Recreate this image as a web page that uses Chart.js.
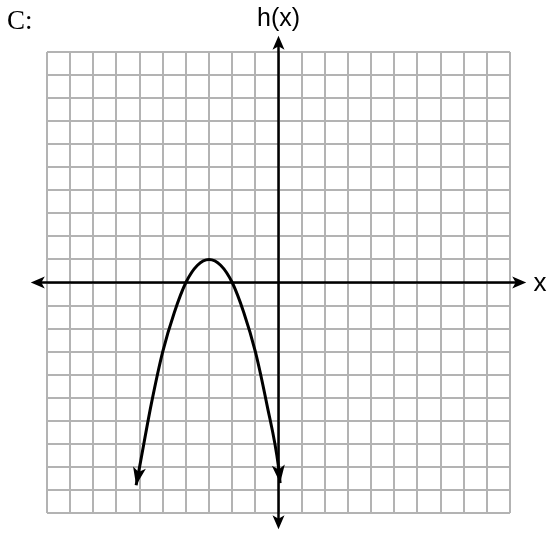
<!DOCTYPE html>
<html>
<head>
<meta charset="utf-8">
<script src="https://cdn.jsdelivr.net/npm/chart.js@4"></script>
<style>
	body { margin: 0; background: #fff; }
	#wrap { width: 548px; height: 535px; }
</style>
</head>
<body>
<div id="wrap"><canvas id="myChart" width="548" height="535"></canvas></div>
<script>
// values
const curveX = [-6.15, -6, -5.5, -5, -4.5, -4, -3.5, -3, -2.5, -2, -1.5, -1, -0.5, 0, 0.07];
const curveY = [-8.8, -8, -5.3, -3, -1.3, 0, 0.75, 1, 0.75, 0, -1.3, -3, -5.3, -8, -8.7];
const axisMin = -10;
const axisMax = 10;
const axisReach = 10.7; // axis arrows go a bit past the grid
const panelLabel = "C:";
const yLabel = "h(x)";
const xLabel = "x";

const points = curveX.map((x, i) => ({ x: x, y: curveY[i] }));

const serifFont = "27px 'Liberation Serif'";
const sansFont = "25px 'Liberation Sans'";
const sansFontX = "26px 'Liberation Sans'";

// arrowhead with a small notch at the back
function arrowHead(c, tipX, tipY, angle, len, half) {
	c.save();
	c.translate(tipX, tipY);
	c.rotate(angle);
	c.beginPath();
	c.moveTo(0, 0);
	c.lineTo(-len, -half);
	c.lineTo(-len * 0.75, 0);
	c.lineTo(-len, half);
	c.closePath();
	c.fillStyle = "#000";
	c.fill();
	c.restore();
}

const axesPlugin = {
	id: "axesPlugin",
	beforeDatasetsDraw(chart) {
		const c = chart.ctx;
		const xs = chart.scales.x;
		const ys = chart.scales.y;
		const x0 = xs.getPixelForValue(0);
		const y0 = ys.getPixelForValue(0);
		const l = xs.getPixelForValue(-axisReach);
		const r = xs.getPixelForValue(axisReach);
		const t = ys.getPixelForValue(axisReach);
		const b = ys.getPixelForValue(-axisReach);
		c.save();
		c.strokeStyle = "#000";
		c.lineWidth = 2.5;
		c.beginPath();
		c.moveTo(l + 6, y0);
		c.lineTo(r - 6, y0);
		c.moveTo(x0, t + 6);
		c.lineTo(x0, b - 6);
		c.stroke();
		c.restore();
		arrowHead(c, r, y0, 0, 14, 6);
		arrowHead(c, l, y0, Math.PI, 14, 6);
		arrowHead(c, x0, t, -Math.PI / 2, 14, 6);
		arrowHead(c, x0, b, Math.PI / 2, 14, 6);
	},
	afterDraw(chart) {
		const c = chart.ctx;
		const xs = chart.scales.x;
		const ys = chart.scales.y;
		// arrowheads on both ends of the curve
		const meta = chart.getDatasetMeta(0).data;
		const n = meta.length;
		const a1 = Math.atan2(meta[0].y - meta[1].y, meta[0].x - meta[1].x);
		const a2 = Math.atan2(meta[n - 1].y - meta[n - 2].y, meta[n - 1].x - meta[n - 2].x);
		arrowHead(c, meta[0].x, meta[0].y, a1, 18, 6.5);
		arrowHead(c, meta[n - 1].x, meta[n - 1].y, a2, 18, 6.5);

		c.save();
		c.fillStyle = "#000";
		c.font = serifFont;
		c.textAlign = "left";
		c.textBaseline = "alphabetic";
		c.fillText(panelLabel, 7, 29);
		c.font = sansFont;
		c.textAlign = "center";
		c.fillText(yLabel, xs.getPixelForValue(0), 26);
		c.font = sansFontX;
		c.textBaseline = "middle";
		c.fillText(xLabel, 540, ys.getPixelForValue(0) + 1);
		c.restore();
	},
};

function drawChart() {
	const ctx = document.getElementById("myChart");
	new Chart(ctx, {
		type: "scatter",
		data: {
			datasets: [
				{
					data: points,
					showLine: true,
					borderColor: "#000",
					borderWidth: 3,
					pointRadius: 0,
					cubicInterpolationMode: "monotone",
					fill: false,
				},
			],
		},
		options: {
			responsive: false,
			animation: false,
			events: [],
			layout: {
				padding: { left: 47, top: 52, right: 38, bottom: 22 },
			},
			plugins: {
				legend: { display: false },
				tooltip: { enabled: false },
			},
			scales: {
				x: {
					type: "linear",
					min: axisMin,
					max: axisMax,
					ticks: { display: false, stepSize: 1 },
					grid: { color: "#b3b3b3", lineWidth: 2, drawTicks: false },
					border: { display: false },
				},
				y: {
					type: "linear",
					min: axisMin,
					max: axisMax,
					ticks: { display: false, stepSize: 1 },
					grid: { color: "#b3b3b3", lineWidth: 2, drawTicks: false },
					border: { display: false },
				},
			},
		},
		plugins: [axesPlugin],
	});
}

Promise.all([
	document.fonts.load(serifFont, panelLabel),
	document.fonts.load(sansFont, yLabel),
]).then(drawChart, drawChart);
</script>
</body>
</html>
